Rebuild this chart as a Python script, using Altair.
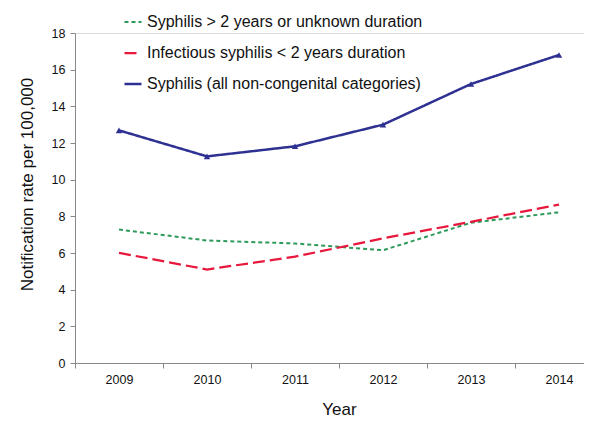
import altair as alt
import pandas as pd

years = ["2009", "2010", "2011", "2012", "2013", "2014"]
series_names = [
    "Syphilis > 2 years or unknown duration",
    "Infectious syphilis < 2 years duration",
    "Syphilis (all non-congenital categories)",
]
late_syphilis = [7.28, 6.68, 6.52, 6.15, 7.65, 8.22]
infectious_syphilis = [6.01, 5.10, 5.80, 6.80, 7.70, 8.64]
all_syphilis = [12.69, 11.27, 11.82, 13.0, 15.22, 16.8]
y_ticks = [0, 2, 4, 6, 8, 10, 12, 14, 16, 18]

colors = ["#2e9a5a", "#e8173c", "#2e3192"]
dashes = [[4, 3], [12, 5], [1, 0]]
widths = [2, 2.5, 2]

rows = []
for name, vals in zip(series_names, [late_syphilis, infectious_syphilis, all_syphilis]):
    for y, v in zip(years, vals):
        rows.append({"Year": y, "Series": name, "Rate": v})
df = pd.DataFrame(rows)

FONT = "Liberation Sans"

x_enc = alt.X(
    "Year:O",
    scale=alt.Scale(type="band", paddingInner=0, paddingOuter=0, range=[0, 528]),
    axis=alt.Axis(
        title="Year", labelAngle=0, tickBand="extent", labelFontSize=12.5,
        labelPadding=5, tickSize=5, titleFontSize=17, titlePadding=16,
        titleFontWeight="normal", domainColor="#888888", tickColor="#888888",
        labelColor="#111111", titleColor="#111111",
    ),
)
y_enc = alt.Y(
    "Rate:Q",
    scale=alt.Scale(domain=[0, 18], nice=False),
    axis=alt.Axis(
        title="Notification rate per 100,000", values=y_ticks, labelOverlap=False,
        grid=False, labelFontSize=12.5, labelPadding=5, tickSize=5,
        titleFontSize=17, titleFontWeight="normal", titlePadding=15, titleY=151,
        domainColor="#888888", tickColor="#888888",
        labelColor="#111111", titleColor="#111111",
    ),
)

lines = alt.Chart(df).mark_line().encode(
    x=x_enc,
    y=y_enc,
    color=alt.Color(
        "Series:N",
        scale=alt.Scale(domain=series_names, range=colors),
        legend=alt.Legend(
            title=None, orient="none", legendX=48, legendY=-21,
            symbolType="stroke", symbolSize=290, symbolStrokeWidth=2.5,
            labelFontSize=16, labelColor="#111111", rowPadding=13,
            labelOffset=4, labelLimit=400,
        ),
    ),
    strokeDash=alt.StrokeDash(
        "Series:N", scale=alt.Scale(domain=series_names, range=dashes), legend=None
    ),
    strokeWidth=alt.StrokeWidth(
        "Series:N", scale=alt.Scale(domain=series_names, range=widths), legend=None
    ),
)

points = alt.Chart(df).transform_filter(
    alt.datum.Series == series_names[2]
).mark_point(shape="triangle-up", filled=True, size=42, color=colors[2], opacity=1).encode(
    x=x_enc,
    y=y_enc,
)

chart = alt.layer(lines, points).properties(
    width=509, height=330,
    autosize=alt.AutoSizeParams(type="none"),
    padding={"left": 67, "top": 25, "right": 0, "bottom": 56},
).configure_view(stroke=None).configure(font=FONT)

chart.save("out.html", embed_options={"renderer": "svg", "actions": False})
